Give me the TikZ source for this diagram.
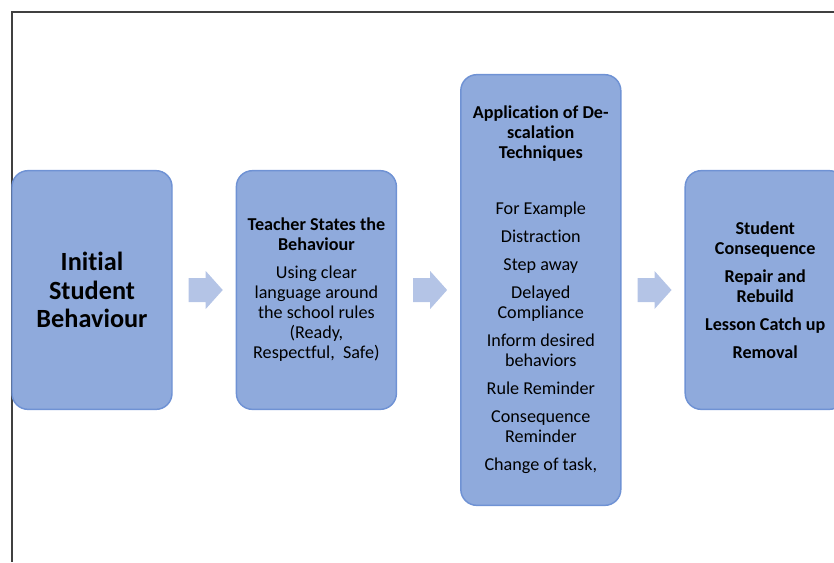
\documentclass[tikz,border=0pt]{standalone}
\usepackage{fontspec}
\setmainfont[Ligatures=NoCommon]{Carlito}
\usetikzlibrary{positioning}

\definecolor{boxfill}{HTML}{8FAADC}
\definecolor{boxline}{HTML}{6F92D4}
\definecolor{arrowfill}{HTML}{B4C4E6}

\begin{document}
\begin{tikzpicture}[x=0.75pt,y=-0.75pt,
  stage/.style={draw=boxline, line width=1.1pt, fill=boxfill, rounded corners=12pt,
    minimum width=120pt, minimum height=179pt, align=center, inner sep=2pt,
    font=\fontsize{13.6}{15}\selectfont},
  flow/.style={fill=arrowfill},
  node distance=47.2pt]
  \useasboundingbox (0,0) rectangle (834,562);
  \clip (0,0) rectangle (834,562);
  % page frame
  \draw[line width=0.8pt, black!75] (834,12) -- (12,12) -- (12,562);
  % the four stages
  \node[stage, font=\bfseries\fontsize{19.7}{21.4}\selectfont] (init) at (92,290)
    {Initial\\Student\\Behaviour};
  \node[stage, right=of init] (teach)
    {\textbf{Teacher States the}\\\textbf{Behaviour}\\[6pt]
     Using clear\\language around\\the school rules\\(Ready,\\Respectful,~ Safe)};
  \node[stage, right=of teach, minimum height=323pt] (deesc)
    {\textbf{Application of De-}\\\textbf{scalation}\\\textbf{Techniques}\\[6pt]
     \\[6pt]
     For Example\\[6pt]Distraction\\[6pt]Step away\\[6pt]Delayed\\Compliance\\[6pt]
     Inform desired\\behaviors\\[6pt]Rule Reminder\\[6pt]Consequence\\Reminder\\[6pt]
     Change of task,};
  \node[stage, right=of deesc, font=\bfseries\fontsize{13.6}{15}\selectfont] (conseq)
    {Student\\Consequence\\[6pt]Repair and\\Rebuild\\[6pt]Lesson Catch up\\[6pt]Removal};
  % block arrows after each stage
  \foreach \s in {init,teach,deesc}
    \fill[flow] ([xshift=12pt,yshift=9pt]\s.east) -- ++(12.75pt,0) -- ++(0,5.25pt)
      -- ++(12.75pt,-14.25pt) -- ++(-12.75pt,-14.25pt) -- ++(0,5.25pt)
      -- ++(-12.75pt,0) -- cycle;
\end{tikzpicture}
\end{document}
